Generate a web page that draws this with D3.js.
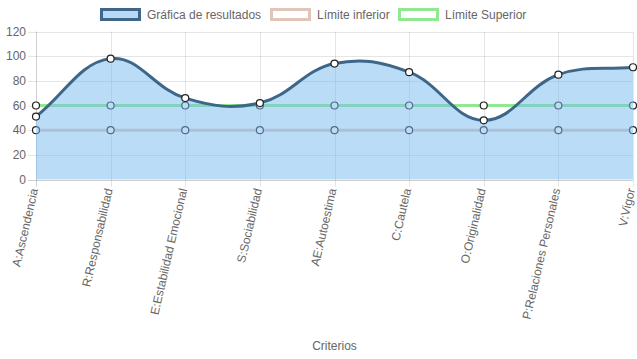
<!DOCTYPE html>
<html><head><meta charset="utf-8">
<script src="https://cdn.jsdelivr.net/npm/d3@7"></script>
<style>body{margin:0;background:#fff}svg{display:block}text{font-family:"Liberation Sans",Arial,sans-serif;fill:#666}</style>
</head><body>
<svg id="c" width="637" height="359"></svg>
<script>
const categories = ["A:Ascendencia","R:Responsabilidad","E:Estabilidad Emocional","S:Sociabilidad","AE:Autoestima","C:Cautela","O:Originalidad","P:Relaciones Personales","V:Vigor"];
const resultados = [51, 98, 66, 62, 94, 87, 48, 85, 91];
const limiteInferior = [40, 40, 40, 40, 40, 40, 40, 40, 40];
const limiteSuperior = [60, 60, 60, 60, 60, 60, 60, 60, 60];
const yTicks = [0, 20, 40, 60, 80, 100, 120];
const seriesNames = ["Gráfica de resultados", "Límite inferior", "Límite Superior"];
const axisTitle = "Criterios";

const svg = d3.select("#c");
const L = 36, R = 633, T = 31.5, B = 179.5;
const x = d3.scalePoint().domain(categories).range([L, R]);
const y = d3.scaleLinear().domain([0, 120]).range([B, T]);

// grid
const g = svg.append("g");
yTicks.forEach(v => {
  g.append("line").attr("x1", L - 8).attr("x2", R).attr("y1", Math.round(y(v)) + 0.5).attr("y2", Math.round(y(v)) + 0.5)
    .attr("stroke", v === 0 ? "rgba(0,0,0,0.18)" : "rgba(0,0,0,0.1)").attr("stroke-width", 1);
  g.append("text").attr("x", L - 10).attr("y", y(v)).attr("dy", "0.35em").attr("text-anchor", "end")
    .attr("font-size", 12).text(v);
});
categories.forEach((c, i) => {
  const xx = Math.round(x(c)) + 0.5;
  g.append("line").attr("x1", xx).attr("x2", xx).attr("y1", T).attr("y2", B + 7)
    .attr("stroke", i === 0 ? "rgba(0,0,0,0.18)" : "rgba(0,0,0,0.1)");
  g.append("text").attr("transform", `translate(${x(c) - 2},${B + 9}) rotate(-77)`)
    .attr("text-anchor", "end").attr("dy", "0.35em").attr("font-size", 12).text(c);
});
svg.append("text").attr("x", (L + R) / 2).attr("y", 350).attr("text-anchor", "middle").attr("font-size", 12).text(axisTitle);

// Chart.js style spline
function ctrlPoints(pts, t) {
  const n = pts.length, out = [];
  for (let i = 0; i < n; i++) {
    const p = pts[i], prev = pts[Math.max(0, i - 1)], next = pts[Math.min(n - 1, i + 1)];
    const d01 = Math.hypot(p[0] - prev[0], p[1] - prev[1]);
    const d12 = Math.hypot(next[0] - p[0], next[1] - p[1]);
    let s01 = d01 / (d01 + d12), s12 = d12 / (d01 + d12);
    if (isNaN(s01)) s01 = 0; if (isNaN(s12)) s12 = 0;
    const fa = t * s01, fb = t * s12;
    const clamp = (v, a, b) => Math.max(a, Math.min(b, v));
    out.push({
      p,
      c1: [clamp(p[0] - fa * (next[0] - prev[0]), L, R), clamp(p[1] - fa * (next[1] - prev[1]), T, B)],
      c2: [clamp(p[0] + fb * (next[0] - prev[0]), L, R), clamp(p[1] + fb * (next[1] - prev[1]), T, B)]
    });
  }
  return out;
}
function curvePath(vals, path) {
  const pts = vals.map((v, i) => [x(categories[i]), y(v)]);
  const cp = ctrlPoints(pts, 0.4);
  path.moveTo(pts[0][0], pts[0][1]);
  for (let i = 1; i < pts.length; i++) {
    path.bezierCurveTo(cp[i - 1].c2[0], cp[i - 1].c2[1], cp[i].c1[0], cp[i].c1[1], pts[i][0], pts[i][1]);
  }
  return pts;
}
function drawPoints(vals) {
  svg.append("g").selectAll("circle").data(vals).join("circle")
    .attr("cx", (d, i) => x(categories[i])).attr("cy", d => y(d)).attr("r", 3.5)
    .attr("fill", "#fff").attr("stroke", "#222").attr("stroke-width", 1.2);
}

// limit lines
const colInf = "rgb(224,198,184)", colSup = "rgb(144,232,144)";
[[limiteInferior, colInf], [limiteSuperior, colSup]].forEach(([vals, col]) => {
  const p = d3.path(); curvePath(vals, p);
  svg.append("path").attr("d", p.toString()).attr("fill", "none").attr("stroke", col).attr("stroke-width", 3);
  drawPoints(vals);
});

// results area + line
const pa = d3.path();
const pts = curvePath(resultados, pa);
pa.lineTo(pts[pts.length - 1][0], y(0)); pa.lineTo(pts[0][0], y(0)); pa.closePath();
svg.append("path").attr("d", pa.toString()).attr("fill", "rgba(120,185,240,0.5)").attr("stroke", "none");
const pl = d3.path(); curvePath(resultados, pl);
svg.append("path").attr("d", pl.toString()).attr("fill", "none").attr("stroke", "#3e6688").attr("stroke-width", 3);
drawPoints(resultados);

// legend
const legend = [
  {name: seriesNames[0], fill: "rgb(184,218,247)", stroke: "#3e6688", x: 100},
  {name: seriesNames[1], fill: "#fff", stroke: colInf, x: 270},
  {name: seriesNames[2], fill: "#fff", stroke: colSup, x: 398}
];
legend.forEach(l => {
  svg.append("rect").attr("x", l.x + 1.5).attr("y", 9.5).attr("width", 38).attr("height", 10)
    .attr("fill", l.fill).attr("stroke", l.stroke).attr("stroke-width", 3);
  svg.append("text").attr("x", l.x + 47).attr("y", 15).attr("dy", "0.35em").attr("font-size", 12).text(l.name);
});
</script>
</body></html>
